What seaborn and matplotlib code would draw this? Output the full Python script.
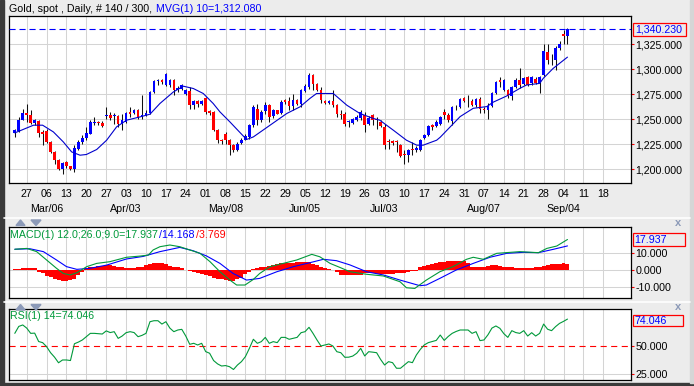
import numpy as np
import pandas as pd
import matplotlib
matplotlib.use("Agg")
import matplotlib.pyplot as plt
import matplotlib.transforms as mtransforms
from matplotlib.patches import Rectangle, Polygon
import seaborn as sns

# ---------------- data ----------------
opens = [1236.3, 1238.0, 1249.7, 1256.7, 1254.0, 1246.3, 1248.0, 1237.3, 1238.0, 1227.3,
         1217.3, 1209.7, 1200.7, 1207.3, 1203.0, 1200.7, 1220.7, 1227.3, 1231.7, 1235.7,
         1246.7, 1246.7, 1246.7, 1253.7, 1254.0, 1253.0, 1253.0, 1245.7, 1247.3, 1257.3,
         1256.3, 1259.7, 1253.0, 1254.0, 1256.3, 1277.3, 1288.3, 1289.0, 1284.0, 1284.0,
         1289.7, 1279.0, 1280.7, 1275.7, 1278.3, 1264.0, 1268.3, 1265.0, 1271.3, 1258.0,
         1257.3, 1239.0, 1229.0, 1235.0, 1229.7, 1224.0, 1219.0, 1226.3, 1229.7, 1232.3,
         1244.0, 1260.7, 1249.0, 1258.3, 1264.0, 1253.0, 1259.0, 1256.3, 1269.7, 1268.0,
         1263.0, 1269.0, 1265.0, 1278.3, 1282.3, 1294.0, 1285.0, 1279.7, 1268.3, 1266.3,
         1268.3, 1264.0, 1255.0, 1255.0, 1247.0, 1246.3, 1249.7, 1251.7, 1254.0, 1245.0,
         1254.0, 1249.7, 1247.3, 1242.3, 1227.3, 1228.3, 1227.3, 1224.0, 1214.7, 1214.0,
         1220.3, 1219.0, 1219.0, 1231.7, 1234.0, 1244.0, 1243.0, 1245.0, 1257.5, 1254.3,
         1248.6, 1261.9, 1261.9, 1270.9, 1269.3, 1268.6, 1264.3, 1269.9, 1259.3, 1259.3,
         1263.2, 1275.9, 1289.1, 1279.2, 1279.2, 1273.6, 1282.2, 1289.1, 1285.2, 1291.8,
         1285.8, 1289.8, 1286.5, 1294.1, 1317.4, 1309.1, 1309.7, 1321.7, 1335.6, 1333.0]
highs = [1240.7, 1252.3, 1260.7, 1265.0, 1259.0, 1250.7, 1249.0, 1239.0, 1240.7, 1228.0,
         1218.3, 1210.7, 1207.3, 1208.3, 1203.7, 1224.0, 1229.0, 1234.0, 1242.3, 1249.0,
         1252.3, 1248.0, 1248.0, 1262.3, 1257.3, 1256.3, 1254.0, 1255.7, 1257.3, 1262.3,
         1260.7, 1260.7, 1274.0, 1259.0, 1278.3, 1289.7, 1290.7, 1290.7, 1296.3, 1290.7,
         1290.7, 1283.0, 1285.7, 1280.7, 1282.3, 1269.7, 1269.0, 1269.0, 1272.3, 1259.0,
         1258.3, 1240.7, 1230.7, 1237.3, 1230.7, 1225.7, 1227.3, 1231.7, 1235.0, 1245.7,
         1264.0, 1265.7, 1259.0, 1267.3, 1265.7, 1260.7, 1259.7, 1269.0, 1270.7, 1272.3,
         1275.7, 1270.7, 1280.7, 1285.0, 1296.3, 1295.7, 1286.3, 1282.3, 1269.7, 1269.7,
         1279.7, 1265.7, 1259.0, 1257.3, 1249.0, 1251.7, 1254.0, 1259.0, 1257.3, 1253.0,
         1255.7, 1252.3, 1249.0, 1245.7, 1230.7, 1229.7, 1229.0, 1225.7, 1219.0, 1220.7,
         1227.3, 1223.0, 1230.7, 1235.7, 1244.0, 1245.7, 1249.0, 1253.0, 1260.7, 1256.0,
         1263.2, 1264.2, 1270.9, 1272.5, 1274.2, 1269.9, 1270.9, 1272.5, 1262.6, 1265.9,
         1277.5, 1288.5, 1292.5, 1289.8, 1280.2, 1283.2, 1290.8, 1300.8, 1292.5, 1293.1,
         1293.1, 1291.8, 1293.1, 1325.0, 1325.7, 1315.7, 1323.0, 1328.3, 1339.6, 1341.6]
lows = [1232.3, 1237.3, 1249.0, 1247.3, 1245.7, 1244.0, 1232.3, 1224.0, 1226.3, 1216.3,
        1205.7, 1199.0, 1195.7, 1201.7, 1199.0, 1197.3, 1219.7, 1225.7, 1229.0, 1235.0,
        1244.0, 1244.0, 1242.3, 1250.7, 1249.7, 1245.7, 1242.3, 1239.0, 1246.3, 1252.3,
        1255.0, 1250.7, 1250.7, 1253.0, 1255.7, 1276.3, 1284.0, 1285.0, 1283.0, 1282.3,
        1274.0, 1277.3, 1279.7, 1274.7, 1260.7, 1260.7, 1262.3, 1264.0, 1255.7, 1254.0,
        1238.3, 1226.3, 1225.7, 1225.7, 1214.0, 1217.3, 1218.3, 1225.0, 1229.0, 1230.7,
        1242.3, 1244.0, 1247.3, 1255.7, 1247.3, 1251.7, 1255.0, 1255.7, 1265.7, 1259.0,
        1259.0, 1264.0, 1262.3, 1277.3, 1280.7, 1279.0, 1278.3, 1266.3, 1265.0, 1265.7,
        1262.3, 1252.3, 1250.7, 1243.0, 1242.3, 1245.0, 1248.3, 1249.0, 1237.3, 1244.0,
        1244.0, 1240.7, 1242.3, 1220.7, 1220.7, 1224.0, 1217.3, 1212.3, 1205.7, 1207.3,
        1214.0, 1217.3, 1218.3, 1230.7, 1233.0, 1239.0, 1242.3, 1244.0, 1250.7, 1247.6,
        1244.3, 1259.3, 1260.9, 1267.6, 1262.6, 1263.2, 1262.6, 1255.9, 1255.9, 1250.0,
        1261.9, 1275.2, 1282.5, 1278.6, 1271.3, 1269.3, 1281.5, 1281.5, 1284.2, 1283.2,
        1284.2, 1285.2, 1275.9, 1293.1, 1305.7, 1304.1, 1299.1, 1319.7, 1325.7, 1325.7]
closes = [1239.0, 1249.7, 1256.7, 1254.0, 1246.7, 1249.0, 1236.3, 1235.7, 1227.3, 1217.3,
          1209.0, 1200.7, 1206.3, 1203.0, 1200.7, 1221.3, 1227.3, 1231.7, 1236.3, 1247.3,
          1247.0, 1246.0, 1243.3, 1254.0, 1251.7, 1253.3, 1245.0, 1249.7, 1256.3, 1255.7,
          1259.7, 1252.3, 1253.3, 1256.3, 1277.3, 1288.3, 1288.7, 1287.3, 1295.0, 1289.7,
          1279.0, 1281.7, 1284.0, 1279.7, 1264.0, 1268.3, 1265.0, 1268.3, 1257.3, 1256.7,
          1239.0, 1229.0, 1228.7, 1229.0, 1224.0, 1219.0, 1225.7, 1229.7, 1233.0, 1244.0,
          1262.3, 1249.0, 1257.3, 1264.0, 1252.3, 1259.7, 1255.7, 1267.3, 1267.3, 1263.0,
          1269.7, 1265.0, 1279.0, 1283.0, 1294.0, 1285.0, 1279.7, 1269.0, 1266.3, 1268.3,
          1264.0, 1255.7, 1254.7, 1245.7, 1247.3, 1250.7, 1252.3, 1257.3, 1244.0, 1251.7,
          1249.0, 1249.3, 1243.0, 1224.0, 1227.0, 1226.3, 1227.0, 1213.0, 1214.3, 1219.0,
          1219.7, 1221.7, 1229.0, 1234.0, 1243.0, 1242.3, 1247.3, 1252.3, 1254.0, 1249.3,
          1261.9, 1262.2, 1269.9, 1268.6, 1268.9, 1264.3, 1269.9, 1259.9, 1259.0, 1263.2,
          1275.9, 1287.5, 1287.5, 1289.1, 1273.6, 1282.2, 1289.1, 1284.2, 1290.8, 1284.2,
          1291.8, 1286.5, 1291.8, 1318.4, 1309.1, 1308.8, 1321.7, 1325.0, 1333.0, 1340.23]

ma_idx = [0, 4.7, 7, 9.7, 12.2, 14.3, 16.4, 18, 20.6, 23.1, 25.6, 28.1, 31.5, 34, 36.5,
          39.9, 42.4, 44.9, 47.4, 49.9, 51.6, 54.1, 58.3, 60, 64.2, 68.4, 71.7, 74.2, 75.9,
          80.1, 83.5, 86.8, 90.2, 91.8, 95.2, 98.5, 101.1, 102.7, 106.1, 107, 112, 115.3,
          118.7, 120.3, 123.7, 127, 128.7, 132, 132.9, 135.4, 139]
ma_val = [1236.3, 1244, 1244, 1237.3, 1227.3, 1217.3, 1214, 1214.7, 1219.7, 1229, 1242.3,
          1249, 1252.3, 1255, 1265.7, 1277.3, 1283, 1280.7, 1275.7, 1265.7, 1257.3, 1247.3,
          1229.7, 1232.3, 1244, 1255.7, 1262.3, 1270.7, 1275.7, 1275.7, 1264, 1255.7, 1250.7,
          1249, 1239, 1229, 1224, 1224, 1229, 1232, 1252.6, 1260.9, 1262.6, 1267, 1273.2,
          1280.8, 1284.2, 1285.8, 1290.8, 1300.8, 1312.08]

macd_idx = [0, 3, 5.5, 8, 10.5, 12.2, 13.9, 15.6, 18.1, 20.6, 23.9, 28.1, 31.5, 33.6, 34.8,
            36.5, 39, 41.5, 44, 46.6, 49.1, 51.6, 54.1, 55.8, 57.9, 60, 61.6, 64.2, 67.5,
            70.9, 74.7, 76.7, 79.3, 81.8, 84.3, 88.5, 92.7, 96.9, 98.5, 100.6, 103.5, 106.9,
            110.2, 113.6, 115.3, 117.8, 121.2, 127, 131.7, 133.8, 136.3, 139]
macd_val = [12.2, 12.7, 10.8, 5.9, 1, -2, -2.9, -1.6, 2, 3.9, 4.9, 7.5, 8.2, 8.8, 11.8,
            13.7, 14.7, 13.7, 11.8, 9.8, 4.9, -1, -5.9, -8.8, -8.8, -5.5, -2, 2, 3.9, 5.9,
            9.2, 7.8, 3.9, 1.5, -1, -2.5, -3.5, -6.9, -10.4, -10.8, -5.9, -1, 2, 6.3, 7.5,
            6.3, 9.8, 10.8, 10.2, 12.7, 14.1, 17.937]
sig_idx = [0, 3.8, 7.2, 10.5, 13, 15.6, 18.9, 23.1, 28.1, 32.3, 36.5, 41.5, 44.9, 48.2,
           51.6, 54.9, 58.3, 61.6, 65.9, 70.1, 74.2, 77.6, 80.9, 84.3, 88.5, 92.7, 96.9,
           101.9, 103.5, 106.9, 111, 115.3, 119.5, 123.7, 127.9, 131.7, 135.5, 139]
sig_val = [12.2, 12.5, 10.8, 5.9, 2, 0.4, 1, 2.9, 6.5, 8, 10.8, 13.3, 11.3, 8.3, 3.9, -2,
           -5.9, -4.9, -1, 2, 4.3, 6.3, 5.5, 3, -1, -2.9, -5.9, -9.2, -8.8, -4.9, 0, 3.9,
           7.5, 9.8, 10.4, 10.2, 12.2, 14.168]
hist_val = [0.5, 0.8, 1, 1.2, 1.2, 1, -1, -2, -3.5, -4, -5, -5.9, -6.3, -6.3, -6, -5.5, -3,
            -1, 1, 1.5, 2, 2.2, 2.5, 2.9, 2.9, 2.5, 2, 1.5, 1.2, 1, 1.2, 1.5, 2, 2.9, 3.5,
            4.3, 4.3, 4.3, 3.5, 2.5, 2, 1.5, 1, 0.3, -0.5, -1, -1.5, -2.2, -2.9, -3.5, -4.5,
            -5, -5.5, -5.9, -6.3, -6.3, -5.5, -4.5, -2.5, -1, 0.5, 1, 1.5, 2, 2.5, 3, 3.5,
            3.9, 4, 4.2, 4.3, 4.5, 4.9, 4.9, 4.5, 3.5, 2.9, 2, 1.2, 0.5, 0, -1, -2.9, -2.9,
            -2.9, -2.9, -2.9, -2.9, -2, -2, -2, -2.2, -2.3, -2.3, -2.3, -2.2, -2, -1.8, -1.6,
            -1.2, -0.8, -0.3, 1.5, 2.2, 3, 3.6, 4.2, 4.5, 5, 5.3, 5.5, 5.5, 5.5, 5.5, 3.9,
            1.8, 1.6, 1.6, 2, 2.5, 2.9, 2.7, 2.4, 2, 1.8, 1.6, 1.3, 1.1, 1, 1, 1.3, 1.7, 2,
            2.5, 3, 3.3, 3.5, 3.6, 3.9, 3.769]
rsi_val = [61.3, 67.5, 68.8, 66, 61.3, 61.5, 54, 53, 49.4, 44, 40, 35, 37.5, 37.5, 37, 52,
           53.5, 55.4, 58.3, 61.3, 61.3, 61, 60.7, 63.5, 62, 62.8, 56.8, 58.9, 61.9, 62.8,
           62, 58.3, 59.5, 61.3, 71.7, 72.6, 72.6, 69.6, 71.7, 66, 62.8, 64.3, 64.9, 58.9,
           51.5, 52.4, 50.9, 52.4, 45, 43.5, 37, 34, 32.1, 32.5, 31.5, 29, 33, 36, 40.5, 47.9,
           56, 52.4, 53.9, 57.7, 52.4, 53.9, 53, 57.7, 57.7, 56, 56.8, 57.7, 61.9, 62.8, 66.7,
           61.3, 55.4, 50, 50.9, 51.8, 50, 44.9, 44, 39.9, 40, 41, 43.5, 47.9, 41.1, 44.9,
           44.5, 44, 38, 33, 36, 35.1, 30.1, 30.1, 33, 36, 35.1, 42, 47, 51, 53, 54, 55, 59.8,
           55, 58.5, 61.3, 63, 64.3, 64.3, 64.3, 61.3, 62.8, 54.8, 55.4, 60, 66, 67.9, 65.8,
           61, 57.7, 63.7, 62, 61.3, 63.7, 58.9, 61.9, 58.9, 61.3, 69.6, 65, 63.7, 67.3, 70.2,
           72, 74.046]

week_days = ['27', '06', '13', '20', '27', '03', '10', '17', '24', '01', '08', '15', '22',
             '29', '05', '12', '19', '26', '03', '10', '17', '24', '31', '07', '14', '21',
             '28', '04', '11', '18']
month_labels = ['Mar/06', 'Apr/03', 'May/08', 'Jun/05', 'Jul/03', 'Aug/07', 'Sep/04']
month_week = [1, 5, 10, 14, 18, 23, 27]   # which weekly tick each month label sits under
price_ticks = [1200, 1225, 1250, 1275, 1300, 1325]
last_close = 1340.23
ma_last = 1312.08

# ---------------- style ----------------
sns.set_style("white")
plt.rcParams['font.family'] = ['Liberation Sans', 'DejaVu Sans']
FS = 7.7
BG = '#ECECEC'
GRID = '#D4D4D4'
GREEN = '#00993A'
BLUE = '#0000FF'
RED = '#FF0000'
LW = 0.8

W, H = 694, 386
fig = plt.figure(figsize=(W / 100, H / 100), dpi=100, facecolor=BG)


def fx(px):
    return px / W


def fy(py):
    return 1 - py / H


def add_axes(top, bottom, left=9.3, right=630.7):
    return fig.add_axes([fx(left), fy(bottom), fx(right) - fx(left), fy(top) - fy(bottom)])


ax = add_axes(16.3, 183.0)
ax_m = add_axes(227.3, 298.3)
ax_r = add_axes(309.3, 380.0)

n = len(closes)
idx = np.arange(n)
week_pos = [3 + 5 * k for k in range(len(week_days))]
xlim = (-1.38, 154.9)

for a in (ax, ax_m, ax_r):
    a.set_facecolor('white')
    a.set_xlim(*xlim)
    for s in a.spines.values():
        s.set_color('black')
        s.set_linewidth(0.9)
    for xp in week_pos:
        a.axvline(xp, color=GRID, lw=0.75, zorder=0)
    a.yaxis.tick_right()
    a.tick_params(axis='y', which='both', direction='out', length=2.4, width=0.8,
                  color=RED, labelcolor='black', labelsize=FS, pad=0.8)

# ---------------- main price panel ----------------
ax.set_ylim(1186.2, 1352.9)
for p in price_ticks:
    ax.axhline(p, color=GRID, lw=0.75, zorder=0)
ax.set_yticks(price_ticks)
ax.set_yticklabels([f"{p:,.3f}" for p in price_ticks])
ax.set_xticks(week_pos)
ax.set_xticklabels(week_days)
ax.tick_params(axis='x', direction='out', length=2.0, width=0.8, color=RED,
               labelcolor='black', labelsize=FS, pad=2.2)

df = pd.DataFrame({'i': idx, 'o': opens, 'h': highs, 'l': lows, 'c': closes})
up = df['c'] >= df['o']
ax.vlines(df['i'], df['l'], df['h'], color='#101010', lw=0.75, zorder=2)
body_lo = np.minimum(df['o'], df['c'])
body_h = np.maximum(np.abs(df['c'] - df['o']), 0.8)
ax.bar(df['i'], body_h, bottom=body_lo, width=0.66,
       color=np.where(up, BLUE, RED), linewidth=0, zorder=3)

ax.axhline(last_close, color=BLUE, lw=LW, dashes=(5.5, 3.5), zorder=4)
sns.lineplot(x=ma_idx, y=ma_val, ax=ax, color='#0000CC', lw=LW, zorder=5)
ax.set_xlabel('')
ax.set_ylabel('')

trans_m = mtransforms.blended_transform_factory(ax.transData, fig.transFigure)
for lab, k in zip(month_labels, month_week):
    ax.text(week_pos[k], fy(209), lab, transform=trans_m, ha='center', va='center',
            fontsize=FS, color='black')

# value box on main
fig.add_artist(Rectangle((fx(633.3), fy(35.7)), fx(686) - fx(633.3), fy(23.3) - fy(35.7),
                         transform=fig.transFigure, fill=False, edgecolor=RED, lw=0.9))
fig.text(fx(635), fy(29.6), f"{last_close:,.3f}", color=BLUE, fontsize=FS, va='center')

# header
fig.text(fx(9.3), fy(8.5), "Gold, spot , Daily, # 140 / 300, ", color='black',
         fontsize=FS, va='center')
fig.text(fx(156.5), fy(8.5), f"MVG(1) 10={ma_last:,.3f}", color=BLUE, fontsize=FS, va='center')

# ---------------- MACD panel ----------------
ax_m.set_ylim(-16.6, 25.1)
for v in (-10, 0, 10):
    ax_m.axhline(v, color=GRID, lw=0.75, zorder=0)
ax_m.bar(idx, hist_val, width=1.0, color=RED, linewidth=0, zorder=2)
sns.lineplot(x=macd_idx, y=macd_val, ax=ax_m, color=GREEN, lw=LW, zorder=4)
sns.lineplot(x=sig_idx, y=sig_val, ax=ax_m, color=BLUE, lw=LW, zorder=3)
ax_m.set_yticks([-10, 0, 10])
ax_m.set_yticklabels(['-10.000', '0.000', '10.000'])
ax_m.set_xticks([])
ax_m.set_xlabel('')
ax_m.set_ylabel('')
fig.text(fx(9.6), fy(235), "MACD(1) 12.0;26.0;9.0=17.937", color=GREEN, fontsize=FS, va='center')
fig.text(fx(159.3), fy(235), "/14.168", color=BLUE, fontsize=FS, va='center')
fig.text(fx(196.3), fy(235), "/3.769", color=RED, fontsize=FS, va='center')
fig.add_artist(Rectangle((fx(632.7), fy(245.7)), fx(685) - fx(632.7), fy(233.3) - fy(245.7),
                         transform=fig.transFigure, fill=False, edgecolor=RED, lw=0.9))
fig.text(fx(634.5), fy(239.6), f"{macd_val[-1]:.3f}", color=BLUE, fontsize=FS, va='center')

# ---------------- RSI panel ----------------
ax_r.set_ylim(19.6, 82.8)
ax_r.axhline(25, color=GRID, lw=0.75, zorder=0)
ax_r.axhline(50, color=RED, lw=LW, dashes=(5.5, 4.0), zorder=2)
sns.lineplot(x=idx, y=rsi_val, ax=ax_r, color=GREEN, lw=LW, zorder=4)
ax_r.set_yticks([25, 50])
ax_r.set_yticklabels(['25.000', '50.000'])
ax_r.set_xticks([])
ax_r.set_xlabel('')
ax_r.set_ylabel('')
fig.text(fx(9.6), fy(316), f"RSI(1) 14={rsi_val[-1]:.3f}", color=GREEN, fontsize=FS, va='center')
fig.add_artist(Rectangle((fx(632.7), fy(325.7)), fx(683.3) - fx(632.7), fy(315) - fy(325.7),
                         transform=fig.transFigure, fill=False, edgecolor=RED, lw=0.9))
fig.text(fx(634.5), fy(320.5), f"{rsi_val[-1]:.3f}", color=BLUE, fontsize=FS, va='center')

# ---------------- frame decorations ----------------
for ysep in (217.5, 302.0):
    fig.add_artist(plt.Line2D([fx(4), fx(690)], [fy(ysep), fy(ysep)], transform=fig.transFigure,
                              color='white', lw=1.2))
    yt = ysep + 5
    fig.add_artist(Polygon([(fx(16), fy(yt + 3)), (fx(25), fy(yt + 3)), (fx(20.5), fy(yt - 2.5))],
                           closed=True, transform=fig.transFigure, color='#8C9AB8'))
    fig.add_artist(Polygon([(fx(31), fy(yt - 2.5)), (fx(41), fy(yt - 2.5)), (fx(36), fy(yt + 3))],
                           closed=True, transform=fig.transFigure, color='#8C9AB8'))
    fig.text(fx(678), fy(yt), "x", color='#8C9AB8', fontsize=8, ha='center', va='center',
             fontweight='bold')

fig.add_artist(Rectangle((0, 0), fx(3.5), 1, transform=fig.transFigure, color='#3A3A3A'))
fig.add_artist(Rectangle((0, 0), 1, fy(383), transform=fig.transFigure, color='#3A3A3A'))
fig.add_artist(Rectangle((fx(690), fy(383)), fx(4), fy(0) - fy(383), transform=fig.transFigure,
                         color='#D6D6D6'))

fig.savefig("out.png", dpi=100, facecolor=BG)
